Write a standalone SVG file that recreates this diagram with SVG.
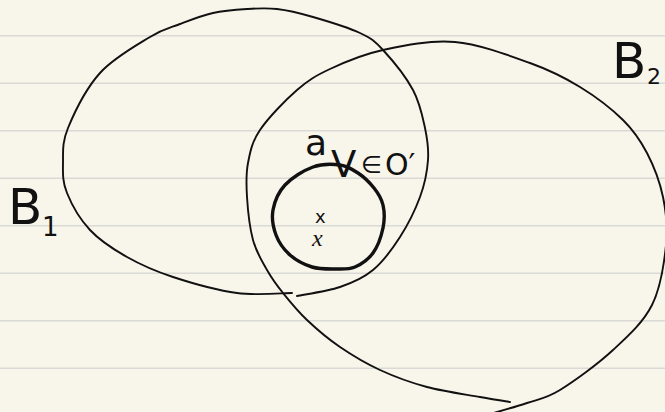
<svg xmlns="http://www.w3.org/2000/svg" width="665" height="412" viewBox="0 0 665 412">
<style>
.rule{stroke:#d9d9d5;stroke-width:1.5}
.thin{fill:none;stroke:#111;stroke-width:1.9;stroke-linecap:round;stroke-linejoin:round}
.thick{fill:none;stroke:#111;stroke-width:3.4;stroke-linecap:round;stroke-linejoin:round}
.hand{font-family:"DejaVu Sans",sans-serif;fill:#111}
</style>
<rect width="665" height="412" fill="#f8f6eb"/>
<g id="paper">
<line class="rule" x1="0" y1="35.7" x2="665" y2="35.7"/>
<line class="rule" x1="0" y1="83.2" x2="665" y2="83.2"/>
<line class="rule" x1="0" y1="130.7" x2="665" y2="130.7"/>
<line class="rule" x1="0" y1="178.2" x2="665" y2="178.2"/>
<line class="rule" x1="0" y1="225.7" x2="665" y2="225.7"/>
<line class="rule" x1="0" y1="273.2" x2="665" y2="273.2"/>
<line class="rule" x1="0" y1="320.7" x2="665" y2="320.7"/>
<line class="rule" x1="0" y1="368.2" x2="665" y2="368.2"/>
</g>
<g id="B1">
<path class="thin" d="M297,296 C304.2,294.5 327.3,291.3 340,287 C352.7,282.7 363,278.3 373,270 C383,261.7 392.2,249.2 400,237 C407.8,224.8 415.3,209.8 420,197 C424.7,184.2 427.2,171.5 428,160 C428.8,148.5 427.5,139.7 425,128 C422.5,116.3 420,103 413,90 C406,77 391.8,59.5 383,50 C374.2,40.5 371.7,38.5 360,33 C348.3,27.5 326.8,21 313,17 C299.2,13 288,10.3 277,9 C266,7.7 257.7,8.3 247,9 C236.3,9.7 224.2,10.5 213,13 C201.8,15.5 190.5,20 180,24 C169.5,28 163.3,28.8 150,37 C136.7,45.2 113.7,57.8 100,73 C86.3,88.2 74.2,113 68,128 C61.8,143 63.2,152.2 63,163 C62.8,173.8 62.5,181.8 67,193 C71.5,204.2 80,219.3 90,230 C100,240.7 113.2,249.2 127,257 C140.8,264.8 154.7,271 173,277 C191.3,283 217.2,290.3 237,293 C256.8,295.7 282.8,293 292,293"/>
</g>
<g id="B2">
<path class="thin" d="M510,402 C505,401.2 493.8,399.5 480,397 C466.2,394.5 443.7,391.5 427,387 C410.3,382.5 394.5,376.7 380,370 C365.5,363.3 352.2,355.3 340,347 C327.8,338.7 316.5,329 307,320 C297.5,311 289.7,301.3 283,293 C276.3,284.7 272,278.8 267,270 C262,261.2 256.3,252.2 253,240 C249.7,227.8 247.8,209.8 247,197 C246.2,184.2 245.8,174.2 248,163 C250.2,151.8 251.8,142.2 260,130 C268.2,117.8 285.3,100.2 297,90 C308.7,79.8 315.7,75.7 330,69 C344.3,62.3 362.2,54.5 383,50 C403.8,45.5 430.5,39.8 455,42 C479.5,44.2 509.2,55.5 530,63 C550.8,70.5 564.5,77.5 580,87 C595.5,96.5 611.8,109 623,120 C634.2,131 640.3,140.2 647,153 C653.7,165.8 659.8,181.7 663,197 C666.2,212.3 667.8,227 666,245 C664.2,263 660.8,287.5 652,305 C643.2,322.5 628.3,335.8 613,350 C597.7,364.2 574.3,381.2 560,390 C545.7,398.8 538.7,399 527,403 C515.3,407 496.2,412.2 490,414"/>
</g>
<g id="V">
<path class="thick" d="M340,165 C332.5,164 322.2,163.7 313,167 C303.8,170.3 291.7,177.8 285,185 C278.3,192.2 274.5,201.7 273,210 C271.5,218.3 273.2,227.5 276,235 C278.8,242.5 284,249.7 290,255 C296,260.3 304.5,264.7 312,267 C319.5,269.3 327.8,269 335,269 C342.2,269 348.7,269.7 355,267 C361.3,264.3 368.3,259.5 373,253 C377.7,246.5 381.3,236 383,228 C384.7,220 384.5,211.7 383,205 C381.5,198.3 378.2,193.3 374,188 C369.8,182.7 363.7,176.8 358,173 C352.3,169.2 347.5,166 340,165 Z"/>
</g>
<g id="labels">
<text class="hand" x="8" y="224" font-size="50">B</text>
<text class="hand" x="42" y="236" font-size="26">1</text>
<text class="hand" x="612" y="78" font-size="50">B</text>
<text class="hand" x="647" y="84" font-size="22">2</text>
<text class="hand" x="305" y="155" font-size="36">a</text>
<text class="hand" x="331" y="177" font-size="37">V</text>
<text class="hand" x="361" y="173" font-size="24">∈</text>
<text class="hand" x="385" y="175" font-size="30">O′</text>
<text class="hand" x="315" y="223" font-size="18">x</text>
<text x="312" y="246" font-size="24" font-family="Liberation Serif, serif" font-style="italic" fill="#111">x</text>
</g>
</svg>
